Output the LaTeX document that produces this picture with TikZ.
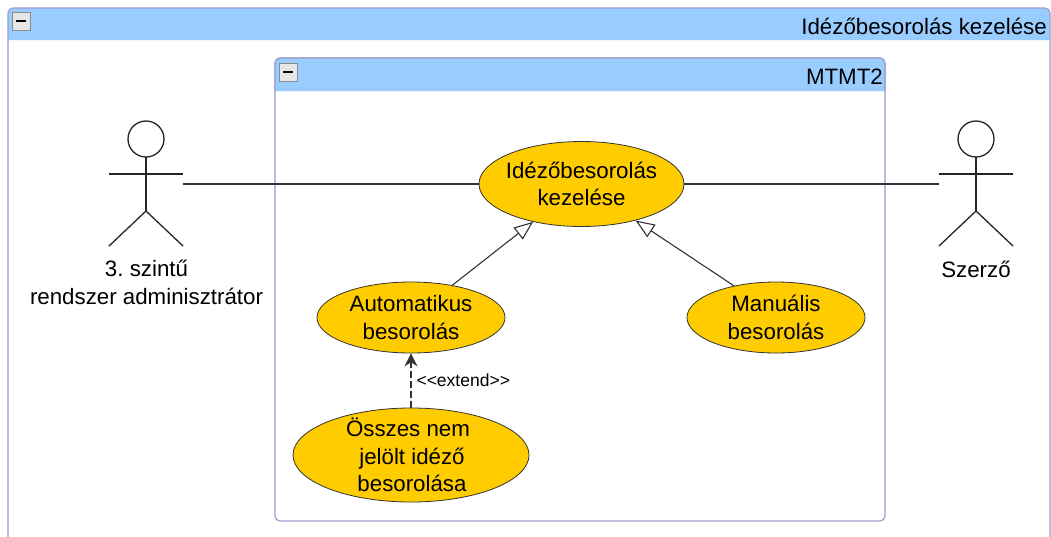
\documentclass[tikz,border=0pt]{standalone}
\usepackage{fontspec}
\setmainfont{Liberation Sans}
\usetikzlibrary{arrows}
\usetikzlibrary{arrows.meta}
\usetikzlibrary{shapes.geometric}
\definecolor{framecolor}{HTML}{9A9ECB}
\definecolor{headcolor}{HTML}{99CCFF}
\definecolor{usecolor}{HTML}{FFCC00}
\definecolor{buttoncolor}{HTML}{E6E6E6}
\tikzset{usecase/.style = {ellipse, draw = black!80, fill = usecolor, align = center,
                           inner xsep = -30pt, inner ysep = -30pt, line width = 0.8pt,
                           font = \fontsize{22.3}{27.5}\selectfont},
         frame/.style = {draw = framecolor, line width = 1.2pt, rounded corners = 5pt},
         headtitle/.style = {anchor = east, inner sep = 0pt, font = \fontsize{22.3}{26}\selectfont},
         button/.style = {draw = black!45, fill = buttoncolor, minimum size = 18pt, inner sep = 0pt, line width = 0.5pt},
         figure/.style = {minimum width = 74pt, minimum height = 124pt, inner sep = 0pt},
         figuretext/.style = {align = center, inner sep = 0pt, font = \fontsize{22.3}{28}\selectfont},
         stick/.style = {draw = black!85, line width = 1.3pt},
         link/.style = {draw = black!80, line width = 1.1pt},
         general/.style = {link, -{Triangle[open, fill = white, length = 19pt, width = 15pt]}},
         extends/.style = {link, dashed, dash pattern = on 7pt off 3pt, -{Stealth[length = 13pt, width = 13pt]}}}

\begin{document}
\frenchspacing
\begin{tikzpicture}[x = 1pt, y = -1pt]
      \useasboundingbox (0, 0) rectangle (1051, 536);

      \fill [white] (0, 0) rectangle (1051, 536);

      \fill [headcolor] (8, 40) [rounded corners = 5pt] -- (8, 8) -- (1050, 8) [sharp corners] -- (1050, 40) -- cycle;
      \draw [frame] (8, 545) -- (8, 8) -- (1050, 8) -- (1050, 545);
      \node [headtitle] (outertitle) at (1047, 26) {Idézőbesorolás kezelése};
      \node [button] (outerbutton) at (21, 21) {};
      \fill (outerbutton.center) +(-5, -1.2) rectangle +(5, 1.2);

      \draw [frame, fill = white] (275, 58) rectangle (885, 521);
      \fill [headcolor] (275, 91) [rounded corners = 5pt] -- (275, 58) -- (885, 58) [sharp corners] -- (885, 91) -- cycle;
      \draw [frame] (275, 91) -- (275, 58) -- (885, 58) -- (885, 91);
      \node [headtitle] (innertitle) at (883, 77) {MTMT2};
      \node [button] (innerbutton) at (288, 72) {};
      \fill (innerbutton.center) +(-5, -1.2) rectangle +(5, 1.2);

      \node [figure] (admin) at (146, 184) {};
      \draw [stick] (146, 139) circle (18);
      \draw [stick] (146, 157) -- (146, 211);
      \draw [stick] (admin.west |- 0, 174) -- (admin.east |- 0, 174);
      \draw [stick] (admin.south west) -- (146, 211) -- (admin.south east);
      \node [figuretext] (adminlabel) at (146.5, 282) {3. szintű\\rendszer adminisztrátor};

      \node [figure] (author) at (976, 184) {};
      \draw [stick] (976, 139) circle (18);
      \draw [stick] (976, 157) -- (976, 211);
      \draw [stick] (author.west |- 0, 174) -- (author.east |- 0, 174);
      \draw [stick] (author.south west) -- (976, 211) -- (author.south east);
      \node [figuretext] (authorlabel) at (976, 269) {Szerző};

      \node [usecase, minimum width = 205pt, minimum height = 85pt] (handling) at (581.5, 184) {Idézőbesorolás\\kezelése};
      \node [usecase, minimum width = 188pt, minimum height = 71pt] (automatic) at (411, 317.5) {Automatikus\\besorolás};
      \node [usecase, minimum width = 178pt, minimum height = 71pt] (manual) at (776, 317.5) {Manuális\\besorolás};
      \node [usecase, minimum width = 236pt, minimum height = 94pt] (unmarked) at (411, 455) {\hspace{-6pt}Összes nem\\\hspace{2pt}jelölt idéző\\\hspace{2pt}besorolása};

      \draw [link] (admin.east) -- (handling.west);
      \draw [link] (handling.east) -- (author.west);
      \draw [general] (automatic.38) -- (handling.218);
      \draw [general] (manual.143) -- (handling.326);
      \draw [extends] (unmarked.north) -- (automatic.south) node [pos = 0.5, right = 5pt, inner sep = 0pt, font = \fontsize{17.5}{20}\selectfont] (extendlabel) {<{}<extend>{}>};
    \end{tikzpicture}
\end{document}
